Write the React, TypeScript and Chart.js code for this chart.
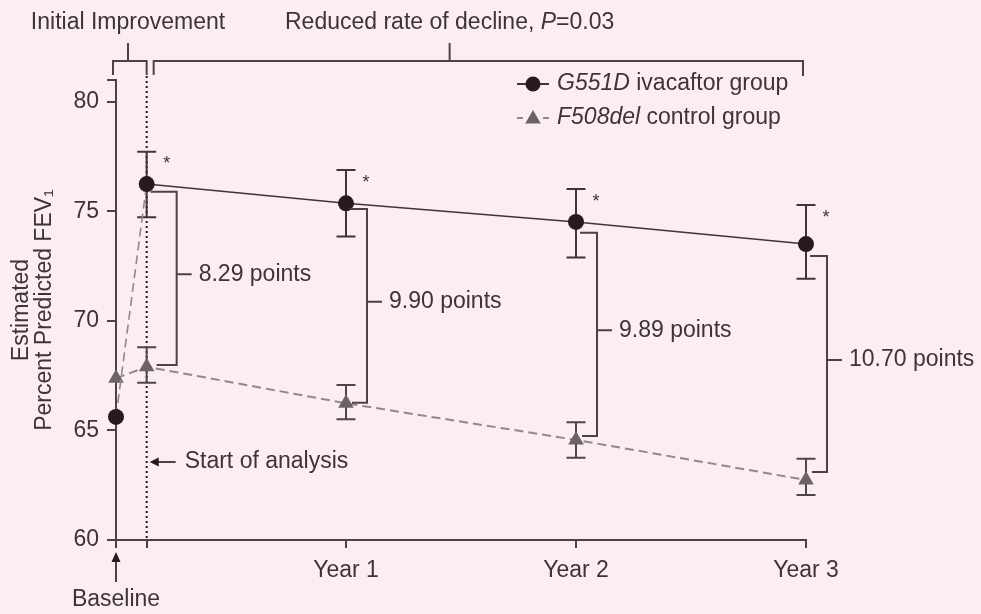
import React, { useEffect, useRef } from 'react';
import { Chart, registerables } from 'chart.js';

Chart.register(...registerables);

// ---- data ----
const months = [0, 1.6, 12, 24, 36];
const xTickValues = [0, 1.6, 12, 24, 36];
const xTickLabels = ['', '', 'Year 1', 'Year 2', 'Year 3'];
const yTickValues = [60, 65, 70, 75, 80, 81];

const g551d = [65.62, 76.25, 75.37, 74.52, 73.51];
const g551dHigh = [null, 77.73, 76.89, 76.02, 75.29];
const g551dLow = [null, 74.73, 73.85, 72.9, 71.93];

const f508del = [67.38, 67.91, 66.24, 64.57, 62.74];
const f508delHigh = [null, 68.8, 67.08, 65.37, 63.71];
const f508delLow = [null, 67.18, 65.51, 63.76, 62.05];

const diffPointIndex = [1, 2, 3, 4];
const diffTop = [75.9, 75.11, 74.03, 72.97];
const diffBottom = [67.99, 66.27, 64.75, 63.1];
const diffLabels = ['8.29 points', '9.90 points', '9.89 points', '10.70 points'];
const starIndex = [1, 2, 3, 4];

const seriesNames = ['G551D', 'F508del'];
const seriesSuffix = [' ivacaftor group', ' control group'];

// ---- styles ----
const BG = '#fbedf3';
const INK = '#3b3537';
const AXIS = '#4a4346';
const DARK = '#241a1f';
const LINE = '#3d3539';
const GRAY = '#6a6467';
const DASH = '#8f898c';
const FONT = '"Liberation Sans", Arial, Helvetica, sans-serif';
const FS = 23;

function triangle(ctx: CanvasRenderingContext2D, cx: number, cy: number, r: number) {
  ctx.beginPath();
  ctx.moveTo(cx, cy - r);
  ctx.lineTo(cx + r * 0.866, cy + r * 0.5);
  ctx.lineTo(cx - r * 0.866, cy + r * 0.5);
  ctx.closePath();
  ctx.fill();
}

const overlay = {
  id: 'overlay',
  beforeDraw(chart: any) {
    const { ctx, width, height } = chart;
    ctx.save();
    ctx.fillStyle = BG;
    ctx.fillRect(0, 0, width, height);
    ctx.restore();
  },
  beforeDatasetsDraw(chart: any) {
    const { ctx } = chart;
    const x = chart.scales.x;
    const y = chart.scales.y;
    ctx.save();
    // dotted start-of-analysis line
    const xs = x.getPixelForValue(months[1]);
    ctx.strokeStyle = DARK;
    ctx.lineWidth = 2;
    ctx.setLineDash([2, 3]);
    ctx.beginPath();
    ctx.moveTo(xs, 76);
    ctx.lineTo(xs, y.bottom);
    ctx.stroke();
    ctx.setLineDash([]);
    // error bars
    const drawErr = (hi: (number | null)[], lo: (number | null)[], color: string) => {
      ctx.strokeStyle = color;
      ctx.lineWidth = 2;
      for (let i = 0; i < months.length; i++) {
        if (hi[i] == null || lo[i] == null) continue;
        const px = x.getPixelForValue(months[i]);
        const ph = y.getPixelForValue(hi[i]);
        const pl = y.getPixelForValue(lo[i]);
        ctx.beginPath();
        ctx.moveTo(px, ph);
        ctx.lineTo(px, pl);
        ctx.moveTo(px - 9.5, ph);
        ctx.lineTo(px + 9.5, ph);
        ctx.moveTo(px - 9.5, pl);
        ctx.lineTo(px + 9.5, pl);
        ctx.stroke();
      }
    };
    drawErr(g551dHigh, g551dLow, LINE);
    drawErr(f508delHigh, f508delLow, '#4d474a');
    ctx.restore();
  },
  afterDraw(chart: any) {
    const { ctx } = chart;
    const x = chart.scales.x;
    const y = chart.scales.y;
    ctx.save();
    ctx.fillStyle = INK;
    ctx.strokeStyle = AXIS;
    ctx.lineWidth = 2;
    ctx.font = `${FS}px ${FONT}`;
    ctx.textBaseline = 'middle';

    // difference brackets
    const dx = [30, 21, 21, 21];
    diffPointIndex.forEach((pi, k) => {
      const px = x.getPixelForValue(months[pi]);
      const vx = px + dx[k];
      const top = y.getPixelForValue(diffTop[k]);
      const bot = y.getPixelForValue(diffBottom[k]);
      const mid = (top + bot) / 2 - 4;
      ctx.beginPath();
      ctx.moveTo(px + 4, top);
      ctx.lineTo(vx, top);
      ctx.lineTo(vx, bot);
      ctx.lineTo(px + (k === 0 ? 10 : 6), bot);
      ctx.moveTo(vx, mid);
      ctx.lineTo(vx + 15, mid);
      ctx.stroke();
      ctx.textAlign = 'left';
      ctx.fillText(diffLabels[k], vx + 22, mid);
    });

    // asterisks
    ctx.font = `18px ${FONT}`;
    ctx.textAlign = 'center';
    ctx.textBaseline = 'alphabetic';
    starIndex.forEach((i) => {
      const px = x.getPixelForValue(months[i]);
      const ph = y.getPixelForValue(g551dHigh[i] as number);
      ctx.fillText('*', px + 20, ph + 7 + 10.5);
    });

    ctx.font = `${FS}px ${FONT}`;
    ctx.textBaseline = 'middle';

    // Start of analysis arrow + label
    const xs = x.getPixelForValue(months[1]);
    const ay = 462;
    ctx.beginPath();
    ctx.moveTo(xs + 8, ay);
    ctx.lineTo(xs + 29, ay);
    ctx.stroke();
    ctx.fillStyle = DARK;
    ctx.beginPath();
    ctx.moveTo(xs + 3, ay);
    ctx.lineTo(xs + 12, ay - 4.5);
    ctx.lineTo(xs + 12, ay + 4.5);
    ctx.closePath();
    ctx.fill();
    ctx.fillStyle = INK;
    ctx.textAlign = 'left';
    ctx.fillText('Start of analysis', xs + 38, ay);

    // Baseline arrow + label
    const xb = x.getPixelForValue(months[0]);
    ctx.beginPath();
    ctx.moveTo(xb, 582);
    ctx.lineTo(xb, 560);
    ctx.stroke();
    ctx.fillStyle = DARK;
    ctx.beginPath();
    ctx.moveTo(xb, 552);
    ctx.lineTo(xb - 4.5, 562);
    ctx.lineTo(xb + 4.5, 562);
    ctx.closePath();
    ctx.fill();
    ctx.fillStyle = INK;
    ctx.textAlign = 'center';
    ctx.fillText('Baseline', xb, 600);

    // top brackets
    const x36 = x.getPixelForValue(months[4]);
    ctx.beginPath();
    // initial improvement
    ctx.moveTo(xb - 3, 75);
    ctx.lineTo(xb - 3, 61);
    ctx.lineTo(xs, 61);
    ctx.lineTo(xs, 75);
    ctx.moveTo(128, 61);
    ctx.lineTo(128, 43);
    // reduced rate
    ctx.moveTo(xs + 7, 75);
    ctx.lineTo(xs + 7, 61);
    ctx.lineTo(x36 - 3, 61);
    ctx.lineTo(x36 - 3, 76);
    ctx.stroke();

    ctx.textAlign = 'center';
    ctx.fillText('Initial Improvement', 128, 23);
    // Reduced rate of decline, P=0.03
    const t1 = 'Reduced rate of decline, ';
    const t2 = 'P';
    const t3 = '=0.03';
    ctx.font = `${FS}px ${FONT}`;
    const w1 = ctx.measureText(t1).width;
    const w3 = ctx.measureText(t3).width;
    ctx.font = `italic ${FS}px ${FONT}`;
    const w2 = ctx.measureText(t2).width;
    const total = w1 + w2 + w3;
    const startX = 285;
    ctx.textAlign = 'left';
    ctx.font = `${FS}px ${FONT}`;
    ctx.fillText(t1, startX, 23);
    ctx.font = `italic ${FS}px ${FONT}`;
    ctx.fillText(t2, startX + w1, 23);
    ctx.font = `${FS}px ${FONT}`;
    ctx.fillText(t3, startX + w1 + w2, 23);
    const tickX = startX + total / 2;
    ctx.beginPath();
    ctx.moveTo(tickX, 61);
    ctx.lineTo(tickX, 43);
    ctx.stroke();

    // legend
    const lx = 517;
    const rows = [84, 118];
    // row 1
    ctx.strokeStyle = LINE;
    ctx.lineWidth = 2;
    ctx.beginPath();
    ctx.moveTo(lx, rows[0]);
    ctx.lineTo(lx + 32, rows[0]);
    ctx.stroke();
    ctx.fillStyle = DARK;
    ctx.beginPath();
    ctx.arc(lx + 16, rows[0], 7.5, 0, Math.PI * 2);
    ctx.fill();
    // row 2
    ctx.strokeStyle = DASH;
    ctx.beginPath();
    ctx.moveTo(lx, rows[1]);
    ctx.lineTo(lx + 6, rows[1]);
    ctx.moveTo(lx + 26, rows[1]);
    ctx.lineTo(lx + 32, rows[1]);
    ctx.stroke();
    ctx.fillStyle = GRAY;
    triangle(ctx, lx + 16, rows[1] + 1, 9);
    ctx.fillStyle = INK;
    seriesNames.forEach((name, i) => {
      ctx.font = `italic ${FS}px ${FONT}`;
      const wn = ctx.measureText(name).width;
      ctx.fillText(name, lx + 40, rows[i]);
      ctx.font = `${FS}px ${FONT}`;
      ctx.fillText(seriesSuffix[i], lx + 40 + wn, rows[i]);
    });

    ctx.restore();
  },
};

export default function App() {
  const ref = useRef<HTMLCanvasElement | null>(null);
  useEffect(() => {
    document.body.style.margin = '0';
    document.body.style.background = BG;
    const canvas = ref.current;
    if (!canvas) return;
    Chart.defaults.font.family = FONT;
    Chart.defaults.font.size = FS;
    Chart.defaults.color = INK;

    const chart = new Chart(canvas, {
      type: 'line',
      data: {
        datasets: [
          {
            label: seriesNames[0],
            data: months.map((m, i) => ({ x: m, y: g551d[i] })),
            borderColor: LINE,
            borderWidth: 1.6,
            pointStyle: 'circle',
            pointRadius: 8,
            pointBackgroundColor: DARK,
            pointBorderWidth: 0,
            clip: false,
            segment: {
              borderColor: (c: any) => (c.p0DataIndex === 0 ? DASH : LINE),
              borderDash: (c: any) => (c.p0DataIndex === 0 ? [9, 5] : []),
            },
          } as any,
          {
            label: seriesNames[1],
            data: months.map((m, i) => ({ x: m, y: f508del[i] })),
            borderColor: DASH,
            borderWidth: 2,
            borderDash: [9, 5],
            pointStyle: 'triangle',
            pointRadius: 9,
            pointBackgroundColor: GRAY,
            pointBorderColor: GRAY,
            pointBorderWidth: 0,
            clip: false,
          } as any,
        ],
      },
      options: {
        animation: false,
        responsive: false,
        maintainAspectRatio: false,
        layout: { padding: { top: 80, right: 175, left: 0, bottom: 0 } },
        plugins: {
          legend: { display: false },
          tooltip: { enabled: false },
        },
        scales: {
          x: {
            type: 'linear',
            min: 0,
            max: 36,
            afterFit: (s: any) => {
              s.height = 74;
            },
            afterBuildTicks: (s: any) => {
              s.ticks = xTickValues.map((v) => ({ value: v }));
            },
            ticks: {
              autoSkip: false,
              maxRotation: 0,
              padding: 9,
              color: INK,
              font: { size: FS },
              callback: (_v: any, i: number) => xTickLabels[i],
            },
            grid: {
              drawOnChartArea: false,
              drawTicks: true,
              tickLength: 8,
              color: AXIS,
              lineWidth: 2,
            },
            border: { display: true, color: AXIS, width: 2 },
          },
          y: {
            type: 'linear',
            min: 60,
            max: 81,
            afterFit: (s: any) => {
              s.width = 116;
            },
            afterBuildTicks: (s: any) => {
              s.ticks = yTickValues.map((v) => ({ value: v }));
            },
            ticks: {
              autoSkip: false,
              padding: 8,
              color: INK,
              font: { size: FS },
              callback: (v: any) => (Number(v) % 5 === 0 ? String(v) : ''),
            },
            grid: {
              drawOnChartArea: false,
              drawTicks: true,
              tickLength: 9,
              color: AXIS,
              lineWidth: 2,
            },
            border: { display: true, color: AXIS, width: 2 },
            title: {
              display: true,
              text: ['Estimated', 'Percent Predicted FEV₁'],
              color: INK,
              font: { size: FS, lineHeight: 1.0 },
              padding: { top: 10, bottom: 0 },
            },
          },
        },
      },
      plugins: [overlay],
    });
    return () => chart.destroy();
  }, []);

  return (
    <div style={{ width: 981, height: 614, position: 'relative', background: BG }}>
      <canvas ref={ref} width={981} height={614} style={{ display: 'block', width: 981, height: 614 }} />
    </div>
  );
}
